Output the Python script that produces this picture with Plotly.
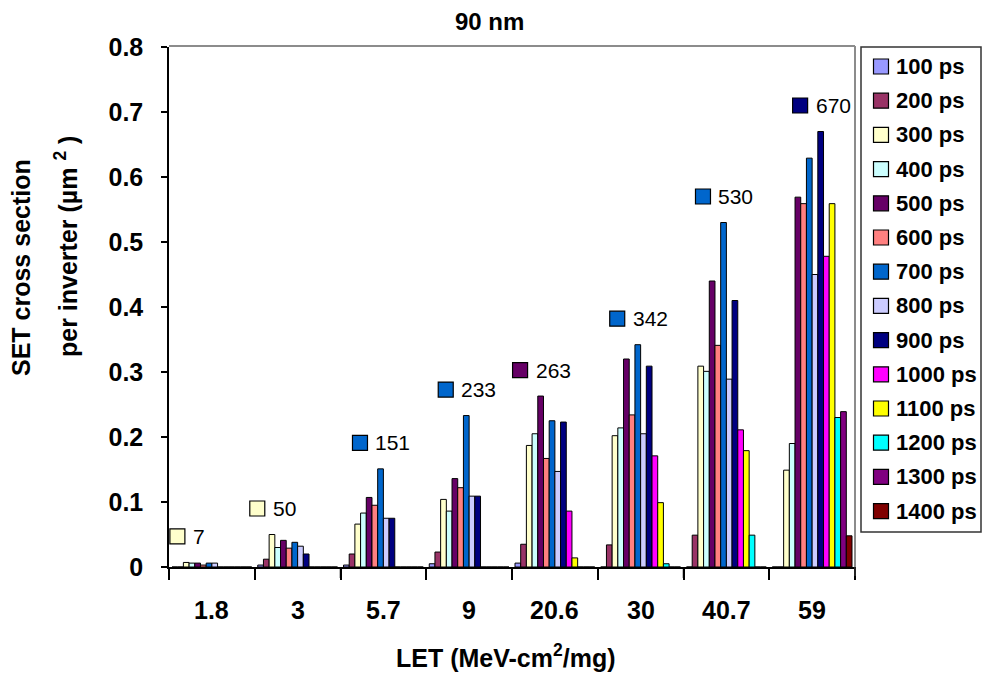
import plotly.graph_objects as go

# ---------------- data ----------------
categories = ["1.8", "3", "5.7", "9", "20.6", "30", "40.7", "59"]
series_names = ["100 ps", "200 ps", "300 ps", "400 ps", "500 ps", "600 ps", "700 ps",
                "800 ps", "900 ps", "1000 ps", "1100 ps", "1200 ps", "1300 ps", "1400 ps"]
series_colors = ["#9999FF", "#993366", "#FFFFCC", "#CCFFFF", "#660066", "#FF8080", "#0066CC",
                 "#CCCCFF", "#000080", "#FF00FF", "#FFFF00", "#00FFFF", "#800080", "#800000"]

ps100 = [0, 0.003, 0.003, 0.005, 0.006, 0, 0, 0]
ps200 = [0, 0.012, 0.020, 0.023, 0.035, 0.034, 0.049, 0]
ps300 = [0.007, 0.050, 0.066, 0.104, 0.187, 0.202, 0.309, 0.149]
ps400 = [0.006, 0.030, 0.083, 0.086, 0.205, 0.214, 0.301, 0.190]
ps500 = [0.006, 0.041, 0.107, 0.136, 0.263, 0.320, 0.440, 0.569]
ps600 = [0.003, 0.029, 0.095, 0.122, 0.167, 0.234, 0.341, 0.559]
ps700 = [0.006, 0.038, 0.151, 0.233, 0.225, 0.342, 0.530, 0.629]
ps800 = [0.006, 0.032, 0.075, 0.109, 0.147, 0.205, 0.289, 0.450]
ps900 = [0, 0.020, 0.075, 0.109, 0.223, 0.309, 0.410, 0.670]
ps1000 = [0, 0, 0, 0, 0.086, 0.171, 0.211, 0.478]
ps1100 = [0, 0, 0, 0, 0.014, 0.099, 0.179, 0.559]
ps1200 = [0, 0, 0, 0, 0, 0.005, 0.049, 0.230]
ps1300 = [0, 0, 0, 0, 0, 0, 0, 0.239]
ps1400 = [0, 0, 0, 0, 0, 0, 0, 0.048]

series_values = [ps100, ps200, ps300, ps400, ps500, ps600, ps700,
                 ps800, ps900, ps1000, ps1100, ps1200, ps1300, ps1400]

# ---------------- layout constants ----------------
W, H = 983, 674
ML, MR, MT, MB = 169, 128, 47, 107
PW, PH = W - ML - MR, H - MT - MB
FONT = "Liberation Sans, Arial, sans-serif"
BARGAP = 0.07
nser = len(series_names)
ncat = len(categories)
xpos = list(range(ncat))
boundaries = [c - 0.5 for c in range(ncat + 1)]


def px_x(px):
    return (px - ML) / PW


def px_y(py):
    return (H - MB - py) / PH


fig = go.Figure()
for name, color, vals in zip(series_names, series_colors, series_values):
    fig.add_trace(go.Bar(
        x=xpos, y=vals, name=name,
        marker=dict(color=color, line=dict(color="black", width=1)),
        showlegend=False, cliponaxis=True,
    ))

shapes = []
annotations = []

# ---- category labels (axis ticks sit on the category boundaries) ----
for ci, cat in enumerate(categories):
    annotations.append(dict(x=ci, y=px_y(610), xref="x", yref="paper", text=cat,
                            showarrow=False, xanchor="center", yanchor="middle",
                            font=dict(family=FONT, size=25, color="black", weight="bold")))

# ---- data labels (legend key + max value), centred over the tallest bar ----
bw = (1 - BARGAP) / nser
for ci, cat in enumerate(categories):
    col = [series_values[s][ci] for s in range(nser)]
    smax = max(range(nser), key=lambda s: col[s])
    vmax = col[smax]
    xc = ci - (1 - BARGAP) / 2 + (smax + 0.5) * bw
    txt = str(int(round(vmax * 1000)))
    total = 15 + 6 + 11.7 * len(txt)
    left = -total / 2
    shapes.append(dict(
        type="rect", xref="x", yref="y",
        xsizemode="pixel", xanchor=xc, x0=left, x1=left + 15,
        ysizemode="pixel", yanchor=vmax, y0=26 - 7.5, y1=26 + 7.5,
        fillcolor=series_colors[smax], line=dict(color="black", width=1.2),
    ))
    annotations.append(dict(
        x=xc, y=vmax, xref="x", yref="y", text=txt, showarrow=False,
        xanchor="left", yanchor="middle", xshift=left + 21, yshift=26,
        font=dict(family=FONT, size=21, color="black"),
    ))

# ---- plot-area frame (top and right, gray) ----
shapes.append(dict(type="line", xref="paper", yref="paper",
                   x0=px_x(ML), x1=px_x(855), y0=px_y(46), y1=px_y(46),
                   line=dict(color="#8c8c8c", width=2)))
shapes.append(dict(type="line", xref="paper", yref="paper",
                   x0=px_x(855), x1=px_x(855), y0=px_y(46), y1=px_y(576),
                   line=dict(color="#8c8c8c", width=2)))

# ---- category boundary marks below the axis ----
for b in range(ncat + 1):
    shapes.append(dict(type="line", xref="paper", yref="paper",
                       x0=b / ncat, x1=b / ncat, y0=px_y(567), y1=px_y(578),
                       line=dict(color="black", width=1.5), layer="above"))

# ---- legend (drawn) ----
shapes.append(dict(type="rect", xref="paper", yref="paper",
                   x0=px_x(861), x1=px_x(981), y0=px_y(47), y1=px_y(532),
                   line=dict(color="#333333", width=1.5), fillcolor="white", layer="below"))
for i, (name, color) in enumerate(zip(series_names, series_colors)):
    cy = 66.5 + i * 34.2
    shapes.append(dict(type="rect", xref="paper", yref="paper",
                       x0=px_x(873.5), x1=px_x(888.5), y0=px_y(cy - 7.5), y1=px_y(cy + 7.5),
                       fillcolor=color, line=dict(color="black", width=1.2)))
    annotations.append(dict(x=px_x(894), y=px_y(cy), xref="paper", yref="paper",
                            text=name, showarrow=False, xanchor="left", yanchor="middle",
                            font=dict(family=FONT, size=22, color="black", weight="bold")))

# ---- titles ----
annotations.append(dict(x=px_x(489), y=px_y(22), xref="paper", yref="paper",
                        text="90 nm", showarrow=False, xanchor="center", yanchor="middle",
                        font=dict(family=FONT, size=24, color="black", weight="bold")))
annotations.append(dict(x=px_x(506), y=px_y(656), xref="paper", yref="paper",
                        text="LET (MeV-cm<sup>2</sup>/mg)", showarrow=False,
                        xanchor="center", yanchor="middle",
                        font=dict(family=FONT, size=25, color="black", weight="bold")))
annotations.append(dict(x=px_x(21), y=px_y(268), xref="paper", yref="paper",
                        text="SET cross section", showarrow=False, textangle=-90,
                        xanchor="center", yanchor="middle",
                        font=dict(family=FONT, size=25, color="black", weight="bold")))
annotations.append(dict(x=px_x(66), y=px_y(247), xref="paper", yref="paper",
                        text="per inverter (µm <sup>2</sup> )", showarrow=False, textangle=-90,
                        xanchor="center", yanchor="middle",
                        font=dict(family=FONT, size=25, color="black", weight="bold")))

fig.update_layout(
    width=W, height=H,
    margin=dict(l=ML, r=MR, t=MT, b=MB, autoexpand=False),
    paper_bgcolor="white", plot_bgcolor="white",
    barmode="group", bargap=BARGAP, bargroupgap=0,
    showlegend=False,
    font=dict(family=FONT, color="black"),
    shapes=shapes, annotations=annotations,
    xaxis=dict(
        range=[-0.5, ncat - 0.5],
        tickmode="array", tickvals=boundaries, ticktext=[""] * len(boundaries),
        ticks="outside", ticklen=11, tickcolor="black", tickwidth=1.5,
        showline=True, linecolor="black", linewidth=1.5,
        showgrid=False, zeroline=False,
    ),
    yaxis=dict(
        range=[0, 0.8], dtick=0.1, tick0=0,
        ticks="outside", ticklen=6, tickcolor="black", tickwidth=1.5,
        showline=True, linecolor="black", linewidth=1.5,
        showgrid=False, zeroline=False,
        tickfont=dict(family=FONT, size=25, color="black", weight="bold"),
        ticklabelstandoff=13,
    ),
)

fig.write_html(
    "out.html",
    config={"displayModeBar": False},
    post_script="document.body.style.margin='0px';document.body.style.overflow='hidden';",
)
